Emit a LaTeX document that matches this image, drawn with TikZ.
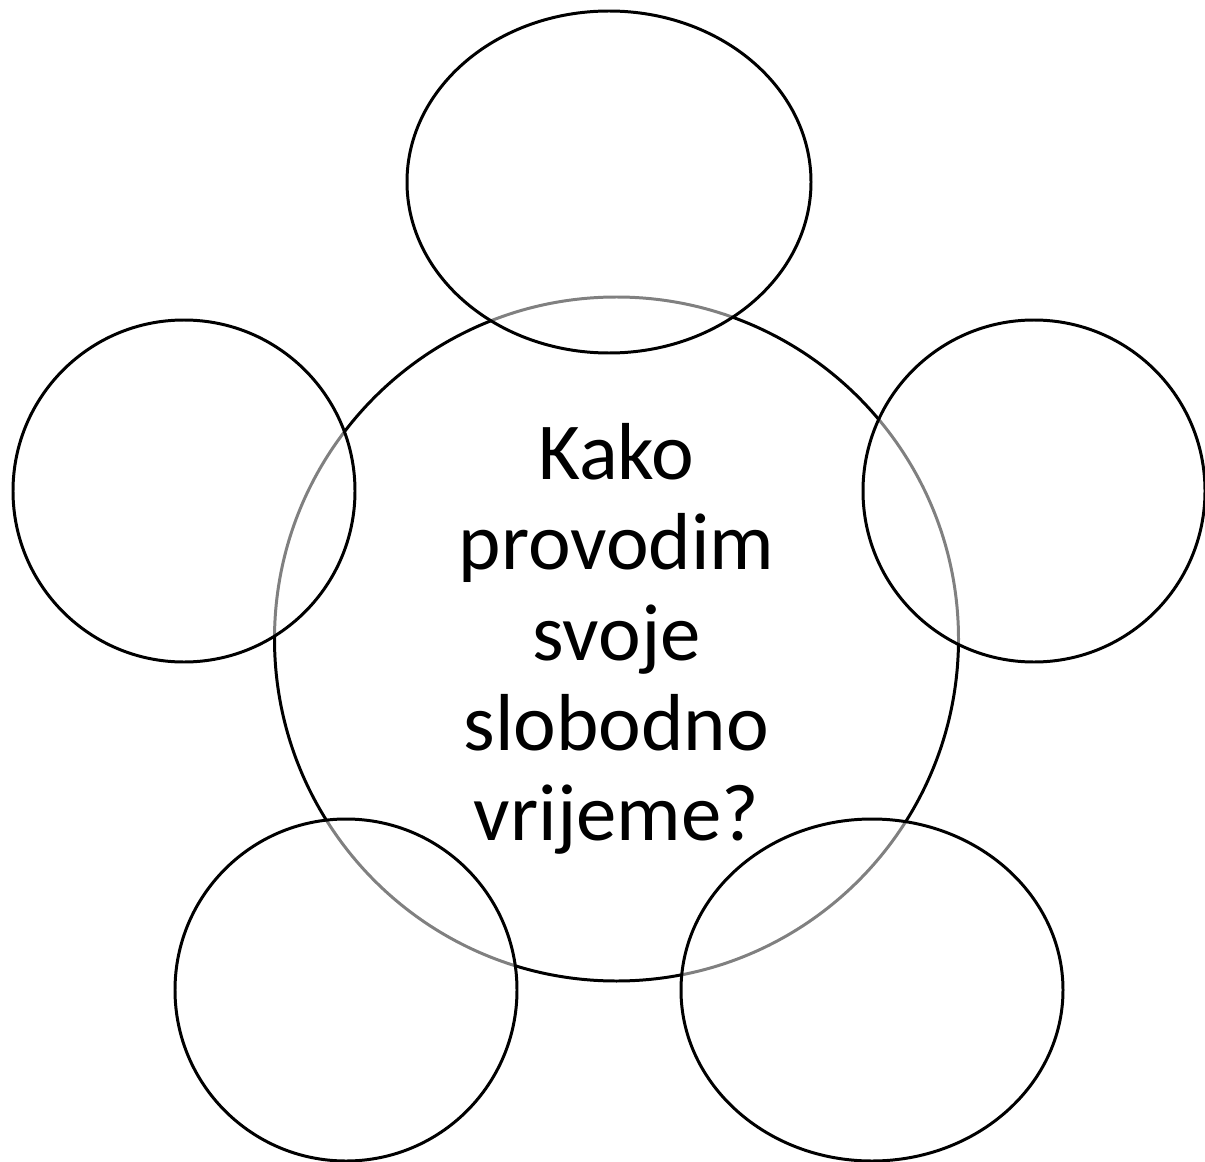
\documentclass[tikz,border=0pt]{standalone}
\usepackage{fontspec}
\setmainfont{Carlito}
\usetikzlibrary{shapes.geometric}
\begin{document}
\begin{tikzpicture}[line width=1.7pt,
    hub node/.style={circle,draw,minimum size=13.68cm,inner sep=0pt,align=center,
      font=\fontsize{46}{51.3}\selectfont},
    spoke circle/.style={circle,draw,fill=white,fill opacity=0.5,minimum size=6.84cm,inner sep=0pt},
    spoke oval/.style={ellipse,draw,fill=white,fill opacity=0.5,minimum height=6.84cm,inner sep=0pt} ]
    \useasboundingbox (0,0) rectangle (24.1,-23.24);
    \node at (12.33,-12.78) [hub node] (hub) {Kako\\provodim\\svoje\\slobodno\\vrijeme?};
    \node at (12.18,-3.64) [spoke oval,minimum width=8.08cm] (top) {};
    \node at (3.68,-9.82) [spoke circle] (left) {};
    \node at (20.68,-9.82) [spoke circle] (right) {};
    \node at (6.92,-19.8) [spoke circle] (botleft) {};
    \node at (17.44,-19.8) [spoke oval,minimum width=7.64cm] (botright) {};
\end{tikzpicture}
\end{document}
